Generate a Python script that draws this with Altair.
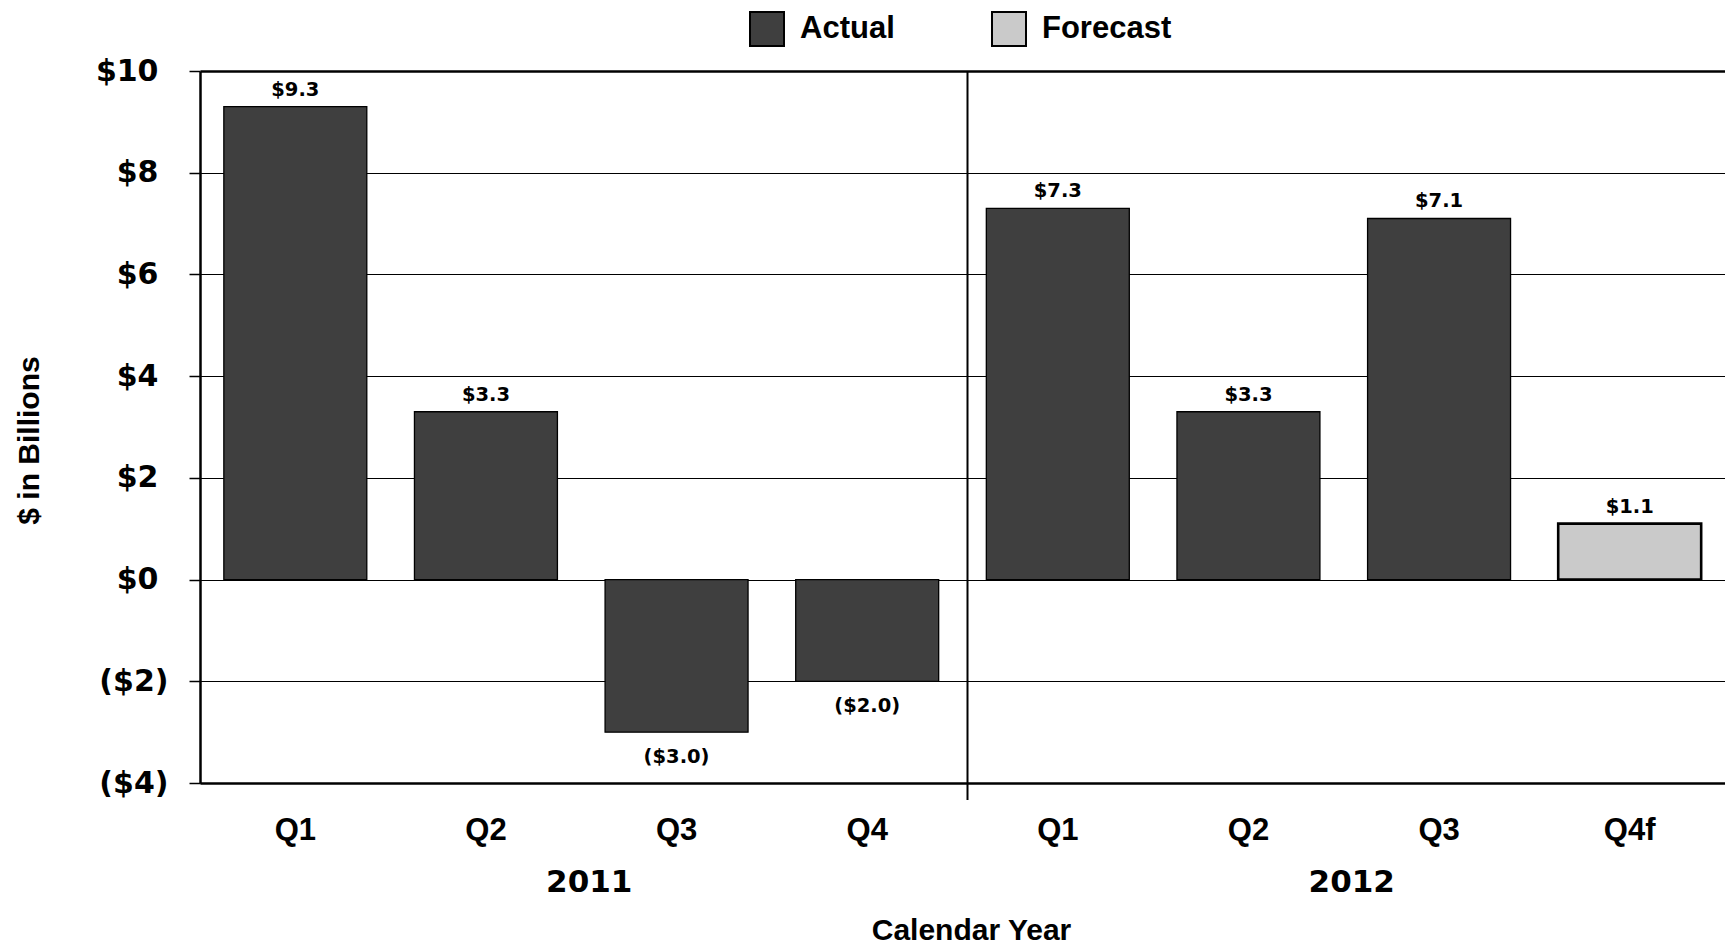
import altair as alt
import pandas as pd

# Quarterly values, $ billions
years = ["2011", "2011", "2011", "2011", "2012", "2012", "2012", "2012"]
quarters = ["Q1", "Q2", "Q3", "Q4", "Q1", "Q2", "Q3", "Q4f"]
values = [9.3, 3.3, -3.0, -2.0, 7.3, 3.3, 7.1, 1.1]
kinds = ["Actual", "Actual", "Actual", "Actual", "Actual", "Actual", "Actual", "Forecast"]

year_labels = ["2011", "2012"]
y_ticks = [-4, -2, 0, 2, 4, 6, 8, 10]

FONT = "Liberation Sans"
NUM_FONT = "DejaVu Sans"
W, H = 1525, 712
PAD_INNER, PAD_OUTER = 0.25, 0.125

keys = [f"{y}|{q}" for y, q in zip(years, quarters)]
# half of the inner gap: from a band's right edge to the boundary between bands
GAP_HALF = W / len(keys) * PAD_INNER / 2

df = pd.DataFrame({"key": keys, "year": years, "quarter": quarters,
                   "value": values, "type": kinds})

x_scale = alt.Scale(paddingInner=PAD_INNER, paddingOuter=PAD_OUTER)
x_enc = alt.X(
    "key:N", sort=keys, scale=x_scale,
    axis=alt.Axis(
        title="Calendar Year", labelExpr="split(datum.label, '|')[1]",
        labelAngle=0, labelFontSize=31, labelFontWeight="bold", labelColor="black",
        labelPadding=32, ticks=False, domainColor="black", domainWidth=2.7,
        titleFontSize=30, titleFontWeight="bold", titleColor="black",
        titleBaseline="alphabetic", titleY=156, titleX=771,
    ),
)

# positive labels sit a little further from the ticks so their digits line up
# with the digits of the parenthesised negatives
y_enc = alt.Y(
    "value:Q",
    scale=alt.Scale(domain=[-4, 10], nice=False),
    axis=alt.Axis(
        values=y_ticks, title="$ in Billions",
        labelExpr="datum.value < 0 ? '($' + abs(datum.value) + ')' : '$' + datum.value",
        labelFont=NUM_FONT, labelFontSize=30, labelFontWeight="bold", labelColor="black",
        labelPadding={"condition": {"test": "datum.value < 0", "value": 21}, "value": 31},
        tickSize=11, tickColor="black", tickWidth=1.5,
        domainColor="black", domainWidth=2.5,
        grid=True, gridColor="black",
        gridWidth={"condition": {"test": "datum.value == 10", "value": 2.5}, "value": 1.2},
        titleFontSize=30, titleFontWeight="bold", titleColor="black",
        titleX=-162, titleY=369, titleBaseline="alphabetic", titleAlign="center",
    ),
)

bars = alt.Chart(df).mark_bar(stroke="black").encode(
    x=x_enc,
    y=y_enc,
    color=alt.Color(
        "type:N",
        scale=alt.Scale(domain=["Actual", "Forecast"], range=["#3f3f3f", "#cacaca"]),
        legend=alt.Legend(
            title=None, orient="none", direction="horizontal",
            legendX=549, legendY=-60,
            symbolType="square", symbolSize=1156,
            symbolStrokeColor="black", symbolStrokeWidth=2,
            labelFontSize=31, labelFontWeight="bold", labelColor="black",
            labelOffset=15, columnPadding=93,
        ),
    ),
    strokeWidth=alt.condition(alt.datum.type == "Forecast", alt.value(2.6), alt.value(1.3)),
)

label_expr = ("datum.value < 0 ? '($' + format(-datum.value, '.1f') + ')' "
              ": '$' + format(datum.value, '.1f')")

pos_labels = alt.Chart(df).transform_filter("datum.value >= 0").transform_calculate(
    txt=label_expr
).mark_text(font=NUM_FONT, fontSize=19.5, fontWeight="bold", baseline="alphabetic",
            dy=-11, color="black").encode(
    x=alt.X("key:N", sort=keys), y="value:Q", text="txt:N")

neg_labels = alt.Chart(df).transform_filter("datum.value < 0").transform_calculate(
    txt=label_expr
).mark_text(font=NUM_FONT, fontSize=19.5, fontWeight="bold", baseline="alphabetic",
            dy=31, color="black").encode(
    x=alt.X("key:N", sort=keys), y="value:Q", text="txt:N")

# Year group labels, centred under each group of four quarters
yr_df = pd.DataFrame({"year": year_labels, "key": [f"{y}|Q2" for y in year_labels]})
yr_text = alt.Chart(yr_df).mark_text(
    font=NUM_FONT, fontSize=31, fontWeight="bold", baseline="middle", color="black",
    xOffset=GAP_HALF + 8,
).encode(
    x=alt.X("key:N", sort=keys, bandPosition=1),
    y=alt.value(H + 100),
    text="year:N",
)

# Divider between the two years
div_df = pd.DataFrame({"key": [f"{year_labels[0]}|Q4"]})
divider = alt.Chart(div_df).mark_rule(
    color="black", strokeWidth=2, xOffset=GAP_HALF + 5
).encode(
    x=alt.X("key:N", sort=keys, bandPosition=1),
    y=alt.value(0),
    y2=alt.value(H + 17),
)

chart = alt.layer(bars, pos_labels, neg_labels, divider, yr_text).properties(
    width=W, height=H,
    autosize=alt.AutoSizeParams(type="none"),
    padding={"left": 200, "top": 71, "right": 0, "bottom": 163},
).configure(font=FONT).configure_view(stroke=None)

chart.save("out.html", embed_options={"renderer": "svg", "actions": False})
